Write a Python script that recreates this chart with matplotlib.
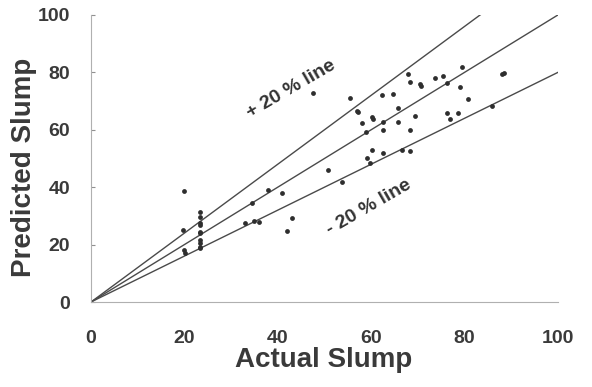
import matplotlib
matplotlib.use("Agg")
import matplotlib.pyplot as plt
import numpy as np

# Data
actual = [20.0, 19.8, 19.9, 20.2,
          23.3, 23.3, 23.3, 23.3, 23.3, 23.3, 23.3, 23.3, 23.3, 23.3,
          34.4, 38.0, 40.8, 33.0, 34.8, 36.0, 43.0, 41.9, 50.8, 53.8,
          47.6, 55.5, 56.9, 57.2, 58.0, 60.2, 60.4, 58.8, 62.5, 62.5,
          62.2, 64.7, 65.8, 65.8, 69.4, 68.3, 67.9, 68.2, 70.4, 70.6,
          73.7, 75.4, 76.2, 79.4, 79.0, 80.8, 76.2, 76.9, 78.5, 88.1,
          88.5, 85.8, 59.0, 59.7, 60.1, 62.6, 66.5, 68.3]
predicted = [38.5, 25.0, 18.2, 17.0,
             31.5, 29.7, 27.4, 26.8, 24.5, 23.9, 21.6, 20.4, 18.7, 19.3,
             34.4, 39.0, 38.1, 27.4, 28.3, 27.8, 29.4, 24.7, 45.8, 41.9,
             72.7, 71.2, 66.6, 66.0, 62.3, 64.4, 63.8, 59.3, 62.8, 59.9,
             72.1, 72.5, 67.5, 62.8, 64.8, 59.9, 79.4, 76.7, 76.0, 75.3,
             77.9, 78.7, 76.4, 82.0, 75.0, 70.7, 65.7, 63.7, 65.7, 79.4,
             79.6, 68.3, 50.0, 48.5, 53.0, 51.8, 53.0, 52.6]

line_ratios = [1.2, 1.0, 0.8]
x_ticks = [0, 20, 40, 60, 80, 100]
y_ticks = [0, 20, 40, 60, 80, 100]
labels = ["+ 20 % line", "- 20 % line"]

FONT = "Liberation Sans"
TXT = "#3a3a3a"

fig = plt.figure(figsize=(5.92, 3.87), dpi=100)
ax = fig.add_axes([0.1537, 0.2196, 0.789, 0.742])

lc = "#4a4a4a"
for r in line_ratios:
    xe = min(100.0, 100.0 / r)
    ax.plot([0, xe], [0, r * xe], color=lc, lw=1.0, zorder=2)

ax.scatter(actual, predicted, s=12, color="#2e2e2e", zorder=3, linewidths=0)

ax.text(42.8, 74.2, labels[0], rotation=30, ha="center", va="center",
        fontsize=14, fontweight="bold", color="#333333", family=FONT)
ax.text(59.5, 32.8, labels[1], rotation=30, ha="center", va="center",
        fontsize=14, fontweight="bold", color="#333333", family=FONT)

ax.set_xlim(0, 100)
ax.set_ylim(0, 100)
ax.set_xticks(x_ticks)
ax.set_yticks(y_ticks)
for s in ["top", "right"]:
    ax.spines[s].set_visible(False)
for s in ["left", "bottom"]:
    ax.spines[s].set_color("#b0b0b0")
    ax.spines[s].set_linewidth(0.8)
    ax.spines[s].set_linestyle((0, (2, 1)))
ax.tick_params(axis="y", direction="in", length=3, color="#909090", pad=15)
ax.tick_params(axis="x", length=0, pad=20)
for lab in ax.get_xticklabels() + ax.get_yticklabels():
    lab.set_fontsize(14)
    lab.set_fontweight("bold")
    lab.set_color(TXT)
    lab.set_family(FONT)

ax.set_xlabel("Actual Slump", fontsize=20, fontweight="bold", color=TXT, family=FONT)
ax.set_ylabel("Predicted Slump", fontsize=20, fontweight="bold", color=TXT, family=FONT)
ax.xaxis.set_label_coords(0.499, -0.155)
ax.yaxis.set_label_coords(-0.116, 0.47)

fig.savefig("out.png", dpi=100)
